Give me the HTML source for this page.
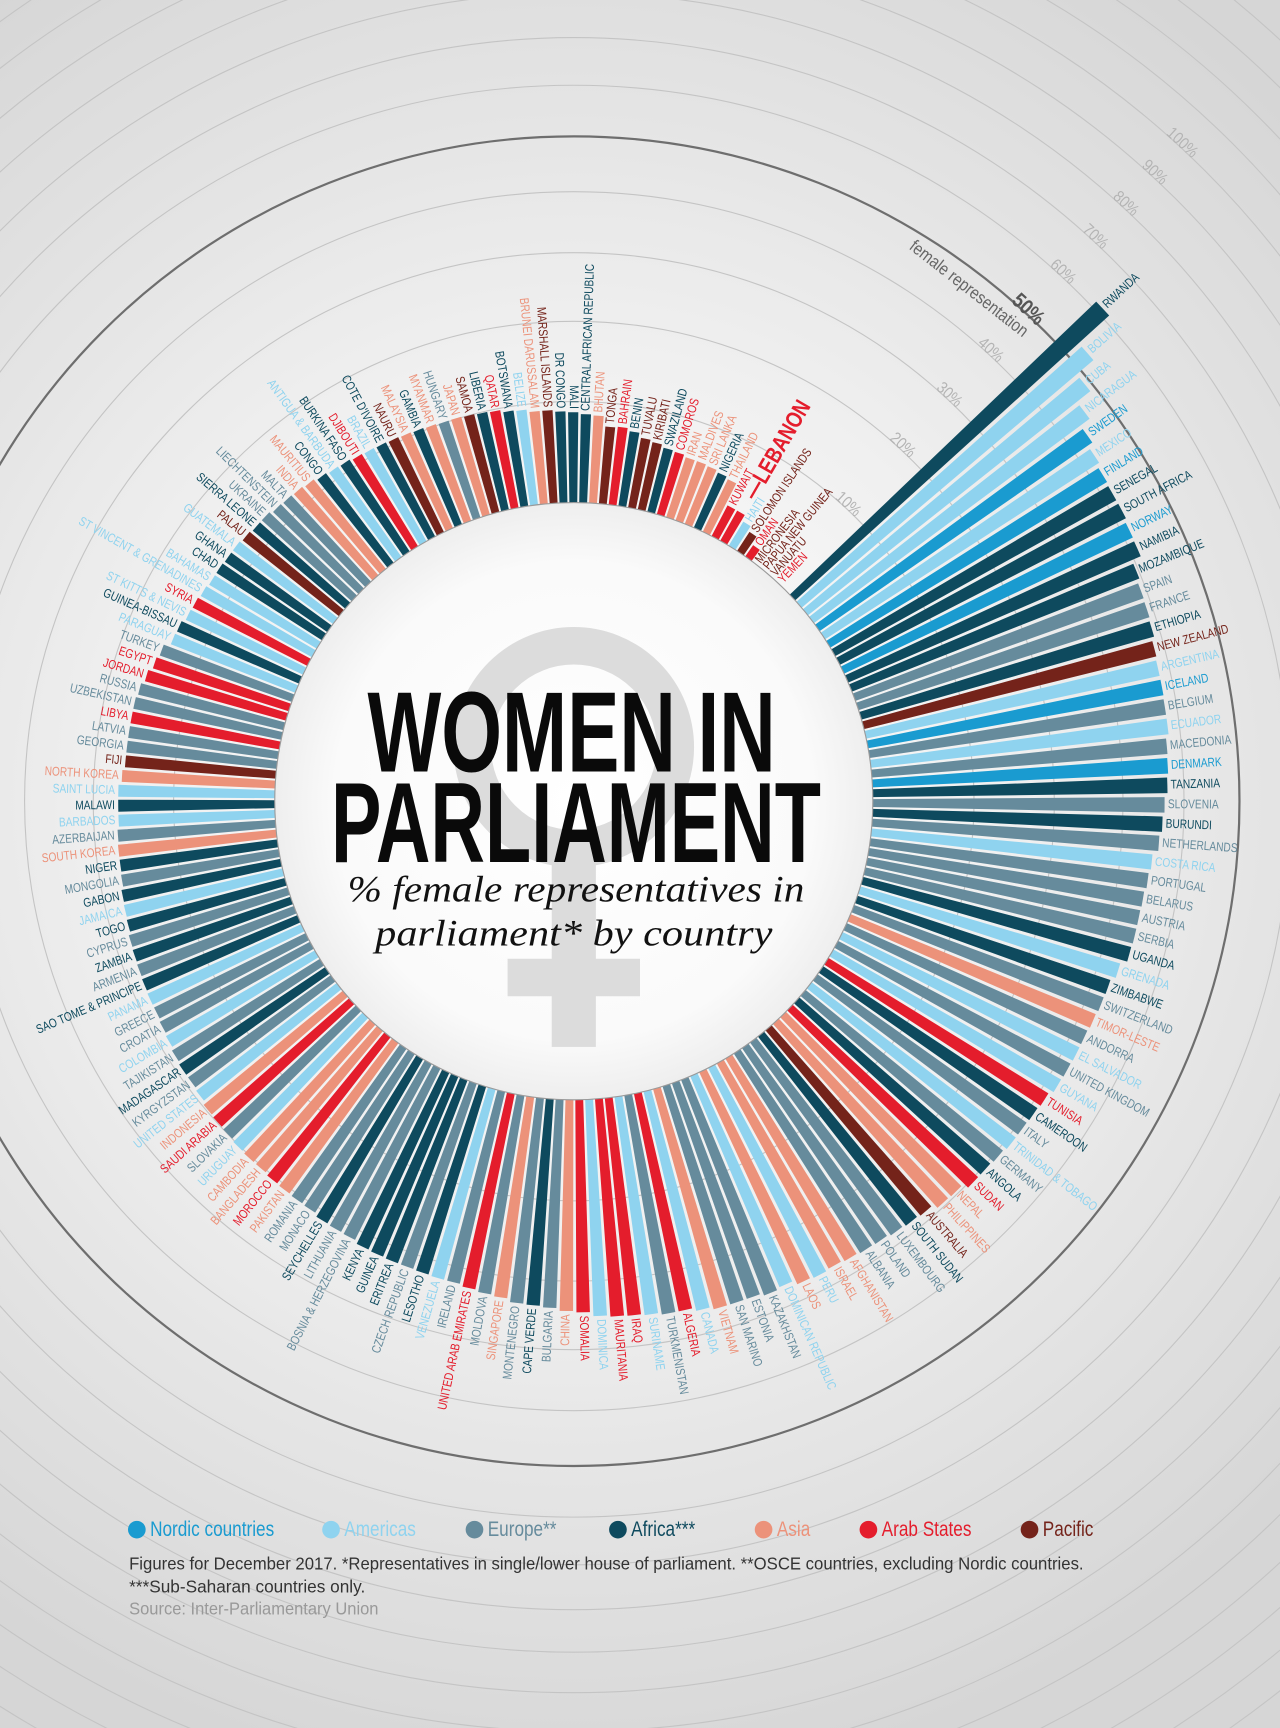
<!DOCTYPE html>
<html><head><meta charset="utf-8"><style>
html,body{margin:0;padding:0;width:1280px;height:1728px;overflow:hidden;background:#ddd}
svg{display:block}
</style></head><body>
<svg id="chart" width="1280" height="1728" viewBox="0 0 1160 1568" preserveAspectRatio="none" xmlns="http://www.w3.org/2000/svg" overflow="hidden">
<defs>
<radialGradient id="bg" cx="520" cy="727" r="900" gradientUnits="userSpaceOnUse">
<stop offset="0" stop-color="#ffffff"/><stop offset="0.45" stop-color="#f0f0f0"/><stop offset="1" stop-color="#d6d6d6"/>
</radialGradient>
<radialGradient id="inner" cx="520" cy="727" r="271" gradientUnits="userSpaceOnUse">
<stop offset="0" stop-color="#ffffff"/><stop offset="0.8" stop-color="#fafafa"/><stop offset="1" stop-color="#eeeeee"/>
</radialGradient>
<clipPath id="frame"><rect x="0" y="0" width="1160" height="1568"/></clipPath>
</defs>
<g clip-path="url(#frame)">
<rect x="0" y="0" width="1160" height="1568" fill="url(#bg)"/>
<g id="rings"></g>
<g id="bars"></g>
<g id="labels"></g>
<circle cx="520" cy="727" r="271" fill="url(#inner)" stroke="#9a9a9a" stroke-width="1"/>
<g fill="#dcdcdc">
<circle cx="520" cy="678" r="92" fill="none" stroke="#dcdcdc" stroke-width="34"/>
<rect x="500" y="780" width="40" height="170"/>
<rect x="460" y="870" width="120" height="34"/>
</g>
<text x="518" y="700" text-anchor="middle" font-family="Liberation Sans Narrow, Liberation Sans, sans-serif" font-weight="bold" font-size="104" fill="#0a0a0a" textLength="370" lengthAdjust="spacingAndGlyphs">WOMEN IN</text>
<text x="522" y="782" text-anchor="middle" font-family="Liberation Sans Narrow, Liberation Sans, sans-serif" font-weight="bold" font-size="104" fill="#0a0a0a" textLength="444" lengthAdjust="spacingAndGlyphs">PARLIAMENT</text>
<text x="522" y="818" text-anchor="middle" font-family="Liberation Serif, serif" font-style="italic" font-size="34" fill="#111" textLength="414" lengthAdjust="spacingAndGlyphs">% female representatives in</text>
<text x="520" y="858" text-anchor="middle" font-family="Liberation Serif, serif" font-style="italic" font-size="34" fill="#111" textLength="360" lengthAdjust="spacingAndGlyphs">parliament* by country</text>
<g id="scale"></g>
<g id="legend"></g>
<text x="117" y="1424" font-family="Liberation Sans Narrow, Liberation Sans, sans-serif" font-size="16" fill="#333" textLength="865" lengthAdjust="spacingAndGlyphs">Figures for December 2017. *Representatives in single/lower house of parliament. **OSCE countries, excluding Nordic countries.</text>
<text x="117" y="1445" font-family="Liberation Sans Narrow, Liberation Sans, sans-serif" font-size="16" fill="#333" textLength="214" lengthAdjust="spacingAndGlyphs">***Sub-Saharan countries only.</text>
<text x="117" y="1465" font-family="Liberation Sans Narrow, Liberation Sans, sans-serif" font-size="16" fill="#999" textLength="226" lengthAdjust="spacingAndGlyphs">Source: Inter-Parliamentary Union</text>
</g>
</svg>
<script>
const countries = ["RWANDA","BOLIVIA","CUBA","NICARAGUA","SWEDEN","MEXICO","FINLAND","SENEGAL","SOUTH AFRICA","NORWAY","NAMIBIA","MOZAMBIQUE","SPAIN","FRANCE","ETHIOPIA","NEW ZEALAND","ARGENTINA","ICELAND","BELGIUM","ECUADOR","MACEDONIA","DENMARK","TANZANIA","SLOVENIA","BURUNDI","NETHERLANDS","COSTA RICA","PORTUGAL","BELARUS","AUSTRIA","SERBIA","UGANDA","GRENADA","ZIMBABWE","SWITZERLAND","TIMOR-LESTE","ANDORRA","EL SALVADOR","UNITED KINGDOM","GUYANA","TUNISIA","CAMEROON","ITALY","TRINIDAD & TOBAGO","GERMANY","ANGOLA","SUDAN","NEPAL","PHILIPPINES","AUSTRALIA","SOUTH SUDAN","LUXEMBOURG","POLAND","ALBANIA","AFGHANISTAN","ISRAEL","PERU","LAOS","DOMINICAN REPUBLIC","KAZAKHSTAN","ESTONIA","SAN MARINO","VIETNAM","CANADA","ALGERIA","TURKMENISTAN","SURINAME","IRAQ","MAURITANIA","DOMINICA","SOMALIA","CHINA","BULGARIA","CAPE VERDE","MONTENEGRO","SINGAPORE","MOLDOVA","UNITED ARAB EMIRATES","IRELAND","VENEZUELA","LESOTHO","CZECH REPUBLIC","ERITREA","GUINEA","KENYA","BOSNIA & HERZEGOVINA","LITHUANIA","SEYCHELLES","MONACO","ROMANIA","PAKISTAN","MOROCCO","BANGLADESH","CAMBODIA","URUGUAY","SLOVAKIA","SAUDI ARABIA","INDONESIA","UNITED STATES","KYRGYZSTAN","MADAGASCAR","TAJIKISTAN","COLOMBIA","CROATIA","GREECE","PANAMA","SAO TOME & PRINCIPE","ARMENIA","ZAMBIA","CYPRUS","TOGO","JAMAICA","GABON","MONGOLIA","NIGER","SOUTH KOREA","AZERBAIJAN","BARBADOS","MALAWI","SAINT LUCIA","NORTH KOREA","FIJI","GEORGIA","LATVIA","LIBYA","UZBEKISTAN","RUSSIA","JORDAN","EGYPT","TURKEY","PARAGUAY","GUINEA-BISSAU","ST KITTS & NEVIS","SYRIA","ST VINCENT & GRENADINES","BAHAMAS","CHAD","GHANA","GUATEMALA","PALAU","SIERRA LEONE","UKRAINE","LIECHTENSTEIN","MALTA","INDIA","MAURITIUS","CONGO","ANTIGUA & BARBUDA","BURKINA FASO","DJIBOUTI","BRAZIL","COTE D'IVOIRE","NAURU","MALAYSIA","GAMBIA","MYANMAR","HUNGARY","JAPAN","SAMOA","LIBERIA","QATAR","BOTSWANA","BELIZE","BRUNEI DARUSSALAM","MARSHALL ISLANDS","DR CONGO","MALI","CENTRAL AFRICAN REPUBLIC","BHUTAN","TONGA","BAHRAIN","BENIN","TUVALU","KIRIBATI","SWAZILAND","COMOROS","IRAN","MALDIVES","SRI LANKA","NIGERIA","THAILAND","KUWAIT","LEBANON","HAITI","SOLOMON ISLANDS","OMAN","MICRONESIA","PAPUA NEW GUINEA","VANUATU","YEMEN"];
const values = [61.3,53.1,48.9,45.7,43.6,42.6,42,41.8,41.8,41.4,41.3,39.6,39.1,39,38.8,38.3,38.1,38.1,38,38,37.5,37.4,37.2,36.7,36.4,36,35.1,34.8,34.5,34.4,34.4,34.3,33.3,32.6,32.5,32.3,32.1,32.1,32,31.9,31.3,31.1,31,31,30.7,30.5,30.5,29.6,29.5,28.7,28.5,28.3,28,27.9,27.7,27.5,27.7,27.5,26.8,27.1,26.7,26.7,26.7,26.3,25.8,25.8,25.5,25.3,25.2,25,24.4,24.2,23.8,23.6,23.5,23,22.8,22.5,22.2,22.2,22.1,22,22,21.9,21.8,21.4,21.3,21.2,20.8,20.7,20.6,20.5,20.3,20.3,20.2,20,19.9,19.8,19.4,19.2,19.2,19,18.7,18.5,18.3,18.3,18.2,18.1,18,17.9,17.6,17.5,17.4,17.1,17,17,16.9,16.7,16.7,16.7,16.3,16,16,16,16,16,15.8,15.4,14.9,14.6,13.8,13.7,13.3,13.2,13,12.8,12.8,12.7,12.7,12.5,12.3,12.3,12,11.9,11.8,11.6,11.3,11.1,11,10.8,10.7,10.6,10.5,10.4,10.3,10.2,10.1,10.1,10,9.9,9.8,9.5,9.4,9.1,9.1,8.9,8.8,8.6,8.5,7.4,7.5,7.2,6.7,6.5,6.2,6.1,5.9,5.9,5.8,5.6,5.4,3.1,3.1,2.5,2,1.2,0,0,0,0];
const regions = ["F","M","M","M","N","M","N","F","F","N","F","F","E","E","F","P","M","N","E","M","E","N","F","E","F","E","M","E","E","E","E","F","M","F","E","S","E","M","E","M","R","F","E","M","E","F","R","S","S","P","F","E","E","E","S","S","M","S","M","E","E","E","S","M","R","E","M","R","R","M","R","S","E","F","E","S","E","R","E","M","F","E","F","F","F","E","E","F","E","E","S","R","S","S","M","E","R","S","M","E","F","E","M","E","E","M","F","E","F","E","F","M","F","E","F","S","E","M","F","M","S","P","E","E","R","E","E","R","R","E","M","F","M","R","M","M","F","F","M","P","F","E","E","E","S","S","F","M","F","R","M","F","P","S","F","S","E","S","P","F","R","F","M","S","P","F","F","F","S","P","R","F","P","P","F","R","S","S","S","F","S","R","R","M","P","R","P","P","P","R"];
const regionColors = {N:"#1a9bd0",M:"#8fd3ef",E:"#668b9c",F:"#0e4a5e",S:"#ec927a",R:"#e41d2c",P:"#74231a"};
const legendLabels = ["Nordic countries","Americas","Europe**","Africa***","Asia","Arab States","Pacific"];
const legendKeys = ["N","M","E","F","S","R","P"];
const scaleTicks = [10,20,30,40,50,60,70,80,90,100];

const NS="http://www.w3.org/2000/svg";
const CX=520, CY=727, R0=271, K=5810;
const START=-43, STEP=1.885;
const FONT='Liberation Sans Narrow, Liberation Sans, sans-serif';
function rScale(v){return Math.sqrt(R0*R0+K*v);}
function angleOf(i){return START+i*STEP;}
function pt(r,deg){const a=deg*Math.PI/180;return [CX+r*Math.cos(a),CY+r*Math.sin(a)];}
function mk(tag,attrs){const e=document.createElementNS(NS,tag);for(const k in attrs)e.setAttribute(k,attrs[k]);return e;}

// rings
const ringG=document.getElementById('rings');
for(let v=10;v<=260;v+=10){
  const c=mk('circle',{cx:CX,cy:CY,r:rScale(v),fill:'none',stroke:v===50?'#6e6e6e':'#c4c4c4','stroke-width':v===50?2:1});
  
  
  ringG.appendChild(c);
}

// bars + labels
const barG=document.getElementById('bars'), labG=document.getElementById('labels');
for(let i=0;i<countries.length;i++){
  const a=angleOf(i), hw=STEP*0.4, R=rScale(values[i]);
  const col=regionColors[regions[i]];
  if(values[i]>0){
    const p1=pt(R0,a-hw),p2=pt(R,a-hw),p3=pt(R,a+hw),p4=pt(R0,a+hw);
    const d=`M${p1[0]},${p1[1]}L${p2[0]},${p2[1]}A${R},${R} 0 0 1 ${p3[0]},${p3[1]}L${p4[0]},${p4[1]}A${R0},${R0} 0 0 0 ${p1[0]},${p1[1]}Z`;
    const b=mk('path',{d:d,fill:col});
    
    
    barG.appendChild(b);
  }
  const isLeb=countries[i]==="LEBANON";
  const lr=R+(isLeb?16:3);
  const lp=pt(lr,a);
  let na=((a%360)+360)%360;
  const right=(na<90||na>270);
  const rot=right?a:a+180;
  const t=mk('text',{transform:`translate(${lp[0]},${lp[1]}) rotate(${rot}) scale(0.8,1)`,'text-anchor':right?'start':'end','dominant-baseline':'central','font-family':FONT,'font-size':isLeb?21:11.5,'font-weight':isLeb?'bold':'normal',fill:col});
  t.textContent=isLeb?'—LEBANON':countries[i];
  
  
  labG.appendChild(t);
}

// scale labels
const sg=document.getElementById('scale');
const SA=-47.3;
for(const v of scaleTicks){
  const p=pt(rScale(v)+4,SA);
  const t=mk('text',{transform:`translate(${p[0]},${p[1]}) rotate(${SA+90}) scale(0.85,1)`,'text-anchor':'middle','dominant-baseline':'central','font-family':FONT,'font-size':v===50?19:15,'font-weight':v===50?'bold':'normal',fill:v===50?'#555':'#b4b4b4'});
  t.textContent=v+'%';
  
  
  sg.appendChild(t);
}
const fr=mk('text',{transform:'translate(878,262) rotate(38) scale(0.85,1)','text-anchor':'middle','dominant-baseline':'central','font-family':FONT,'font-size':16,fill:'#666'});
fr.textContent='female representation';


sg.appendChild(fr);

// legend
const lg=document.getElementById('legend');
const lx=[124,300,430,560,692,787,933];
for(let i=0;i<legendLabels.length;i++){
  const g=mk('g',{});
  
  
  g.appendChild(mk('circle',{cx:lx[i],cy:1388,r:8,fill:regionColors[legendKeys[i]]}));
  const t=mk('text',{transform:`translate(${lx[i]+12},1394) scale(0.82,1)`,'font-family':FONT,'font-size':19,fill:regionColors[legendKeys[i]]});
  t.textContent=legendLabels[i];
  g.appendChild(t);
  lg.appendChild(g);
}
</script>
</body></html>
